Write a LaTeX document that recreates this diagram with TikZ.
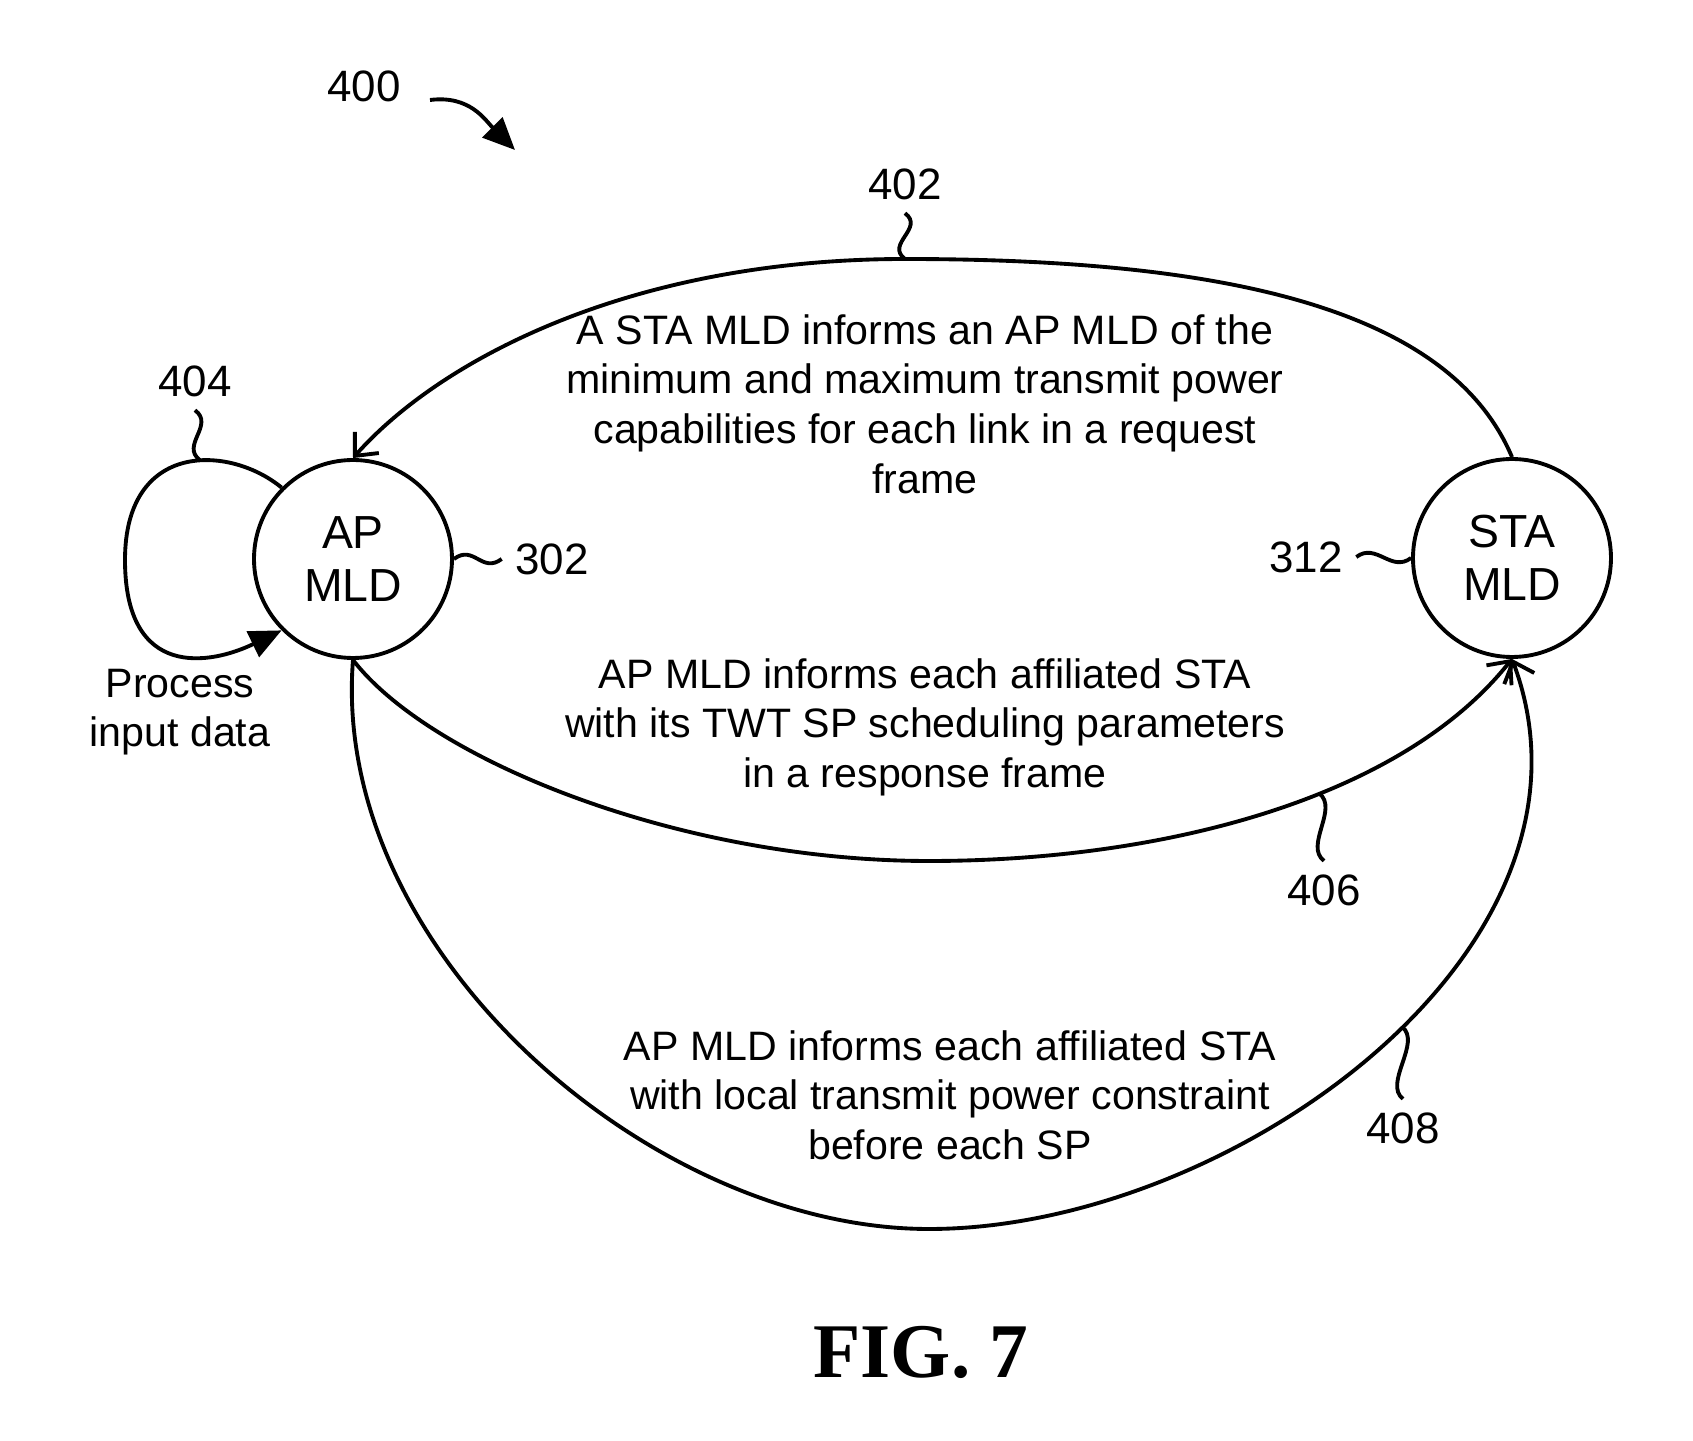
\documentclass[tikz,border=0pt]{standalone}
\usepackage{fontspec}
\setmainfont{Liberation Sans}
\newfontfamily\figfont{Liberation Serif}
\usetikzlibrary{arrows.meta}

\begin{document}
\begin{tikzpicture}[
    every node/.style={font=\fontsize{12.5}{14.1}\selectfont},
    line width=1.1pt,
    state/.style={draw, circle, minimum size=1.98cm, inner sep=0pt, align=center,
                  font=\fontsize{13.2}{15.1}\selectfont},
    txt/.style={align=center, font=\fontsize{11.7}{14.1}\selectfont},
    arr/.style={-{Straight Barb[length=1.8mm, width=3.2mm]}},
    farr/.style={-{Triangle[length=3.2mm, width=2.8mm]}},
  ]
  \useasboundingbox (0,0) rectangle (16.93,-14.41);

  % states
  \node[state] (ap)  at (3.53,-5.59)  {AP\\MLD};
  \node[state] (sta) at (15.12,-5.58) {STA\\MLD};

  % reference numerals
  \node (l400) at (3.64,-0.86)  {400};
  \node (l402) at (9.05,-1.84)  {402};
  \node (l404) at (1.95,-3.81)  {404};
  \node (l302) at (5.52,-5.59)  {302};
  \node (l312) at (13.06,-5.57) {312};
  \node (l406) at (13.24,-8.90) {406};
  \node (l408) at (14.03,-11.28) {408};

  % message texts
  \node[txt] (t402) at (9.25,-4.04)
    {A STA MLD informs an AP MLD of the\\minimum and maximum transmit power\\capabilities for each link in a request\\frame};
  \node[txt] (t406) at (9.25,-7.27)
    {AP MLD informs each affiliated STA\\with its TWT SP scheduling parameters\\in a response frame};
  \node[txt] (t408) at (9.50,-10.95)
    {AP MLD informs each affiliated STA\\with local transmit power constraint\\before each SP};
  \node[txt] (t404) at (1.80,-7.12) {Process\\input data};

  \node[font=\figfont\bfseries\fontsize{22}{24}\selectfont] (fig) at (9.21,-13.52) {FIG. 7};

  % 400 pointer
  \coordinate (p400s) at (4.30,-1.00);
  \coordinate (p400e) at (5.15,-1.50);
  \draw[farr] (p400s) .. controls (4.70,-0.95) and (4.85,-1.20) .. (p400e);

  % 402: request frame
  \coordinate (c402) at (9.05,-2.59);
  \draw[arr] (sta.north) .. controls (14.5,-3.1) and (12.3,-2.59) .. (c402)
    .. controls (6.3,-2.59) and (4.4,-3.6) .. (ap.north);

  % 404: self loop
  \draw[farr] (ap.135) .. controls (2.3,-4.45) and (1.25,-4.4) ..
    coordinate[pos=0.42] (c404) (1.25,-5.6)
    .. controls (1.25,-6.8) and (2.1,-6.65) .. (ap.225);

  % 406: response frame
  \draw[arr] (ap.south) .. controls (4.3,-7.6) and (6.8,-8.61) .. (9.29,-8.61)
    .. controls (11.6,-8.61) and (14.0,-8.0) .. coordinate[pos=0.59] (c406) (sta.south);

  % 408: power constraint
  \draw[arr] (ap.south) .. controls (3.3,-9.5) and (6.5,-12.29) .. (9.29,-12.29)
    .. controls (12.3,-12.29) and (16.2,-9.5) .. coordinate[pos=0.54] (c408) (sta.south);

  % lead lines
  \draw (l402.south) .. controls +(0.2,-0.15) and +(-0.2,0.15) .. (c402);
  \draw (l404.south) .. controls +(0.2,-0.15) and +(-0.2,0.15) .. (c404);
  \draw (ap.east) .. controls +(0.2,0.15) and +(-0.2,-0.15) .. (l302.west);
  \draw (l312.east) .. controls +(0.2,0.15) and +(-0.2,-0.15) .. (sta.west);
  \draw (c406) .. controls +(0.2,-0.15) and +(-0.2,0.15) .. (l406.north);
  \draw (c408) .. controls +(0.2,-0.15) and +(-0.2,0.15) .. (l408.north);
\end{tikzpicture}
\end{document}
